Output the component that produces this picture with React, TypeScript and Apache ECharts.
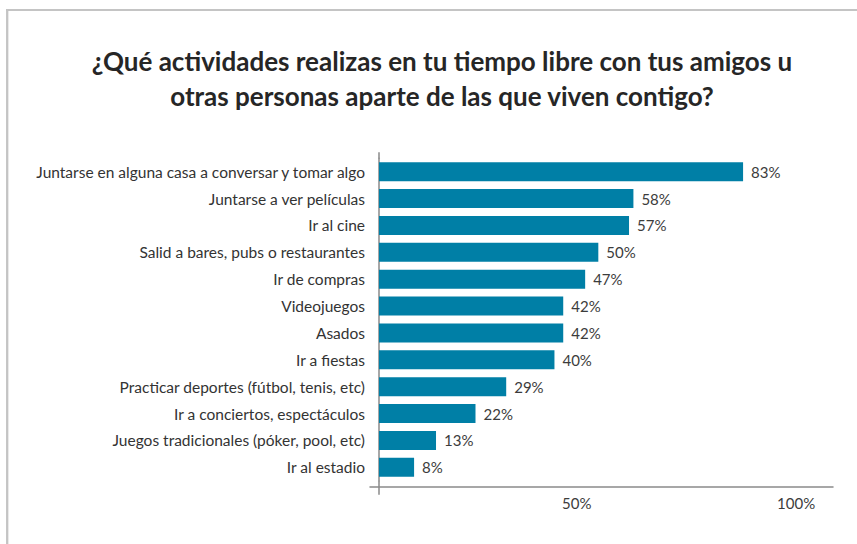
import React, { useEffect, useRef } from "react";
import * as echarts from "echarts";

const titleText =
  "¿Qué actividades realizas en tu tiempo libre con tus amigos u\notras personas aparte de las que viven contigo?";

const categories = [
  "Juntarse en alguna casa a conversar y tomar algo",
  "Juntarse a ver películas",
  "Ir al cine",
  "Salid a bares, pubs o restaurantes",
  "Ir de compras",
  "Videojuegos",
  "Asados",
  "Ir a fiestas",
  "Practicar deportes (fútbol, tenis, etc)",
  "Ir a conciertos, espectáculos",
  "Juegos tradicionales (póker, pool, etc)",
  "Ir al estadio",
];

const values = [83, 58, 57, 50, 47, 42, 42, 40, 29, 22, 13, 8];

const tickValues = [50, 100];

const FONT = "Lato, 'Open Sans', sans-serif";
const AXIS_COLOR = "#8a8a8a";
const BAR_COLOR = "#007fa6";

export default function App() {
  const ref = useRef<HTMLDivElement>(null);

  useEffect(() => {
    if (!ref.current) return;
    const chart = echarts.init(ref.current, undefined, { renderer: "svg" });
    const xMin = -2.05;
    const xMax = 103.5;
    chart.setOption({
      animation: false,
      backgroundColor: "#ffffff",
      title: {
        text: titleText,
        left: 437,
        top: 38,
        textAlign: "center",
        textStyle: {
          fontFamily: FONT,
          fontSize: 26,
          fontWeight: "bold",
          color: "#262626",
          lineHeight: 35,
        },
      },
      graphic: [
        {
          type: "line",
          shape: { x1: 6, y1: 10, x2: 857, y2: 10 },
          style: { stroke: "#c4c4c4", lineWidth: 2 },
        },
        {
          type: "line",
          shape: { x1: 7.2, y1: 9, x2: 7.2, y2: 544 },
          style: { stroke: "#c4c4c4", lineWidth: 2.3 },
        },
      ],
      grid: {
        left: 370,
        right: 24,
        top: 158.3,
        height: 322.4,
        containLabel: false,
      },
      xAxis: [
        {
          type: "value",
          min: xMin,
          max: xMax,
          position: "bottom",
          offset: 6,
          splitLine: { show: false },
          axisTick: { show: false },
          axisLine: { show: true, lineStyle: { color: AXIS_COLOR, width: 1.5 } },
          axisLabel: {
            customValues: tickValues,
            formatter: "{value}%",
            margin: 9,
            fontFamily: FONT,
            fontSize: 15,
            color: "#3c3c3c",
            padding: [0, 43, 0, 0],
          },
        },
        {
          type: "value",
          min: xMin,
          max: xMax,
          position: "bottom",
          offset: 0,
          splitLine: { show: false },
          axisLine: { show: false },
          axisLabel: { show: false },
          axisTick: {
            show: true,
            customValues: [0],
            length: 14,
            lineStyle: { color: AXIS_COLOR, width: 1.5 },
          },
        },
        {
          type: "value",
          min: xMin,
          max: xMax,
          position: "top",
          offset: 0,
          splitLine: { show: false },
          axisLine: { show: false },
          axisLabel: { show: false },
          axisTick: {
            show: true,
            customValues: [0],
            length: 6,
            lineStyle: { color: AXIS_COLOR, width: 1.5 },
          },
        },
      ],
      yAxis: {
        type: "category",
        data: categories,
        inverse: true,
        axisTick: { show: false },
        axisLine: {
          show: true,
          onZero: true,
          onZeroAxisIndex: 0,
          lineStyle: { color: AXIS_COLOR, width: 1.5 },
        },
        axisLabel: {
          margin: 5,
          fontFamily: FONT,
          fontSize: 15.5,
          color: "#333333",
        },
      },
      series: [
        {
          type: "bar",
          xAxisIndex: 0,
          data: values,
          barWidth: 19,
          itemStyle: { color: BAR_COLOR },
          label: {
            show: true,
            position: "right",
            distance: 8,
            formatter: "{c}%",
            fontFamily: FONT,
            fontSize: 15,
            color: "#3c3c3c",
          },
        },
      ],
    });
    return () => chart.dispose();
  }, []);

  return (
    <div
      ref={ref}
      style={{ position: "fixed", left: 0, top: 0, width: 857, height: 544 }}
    />
  );
}
